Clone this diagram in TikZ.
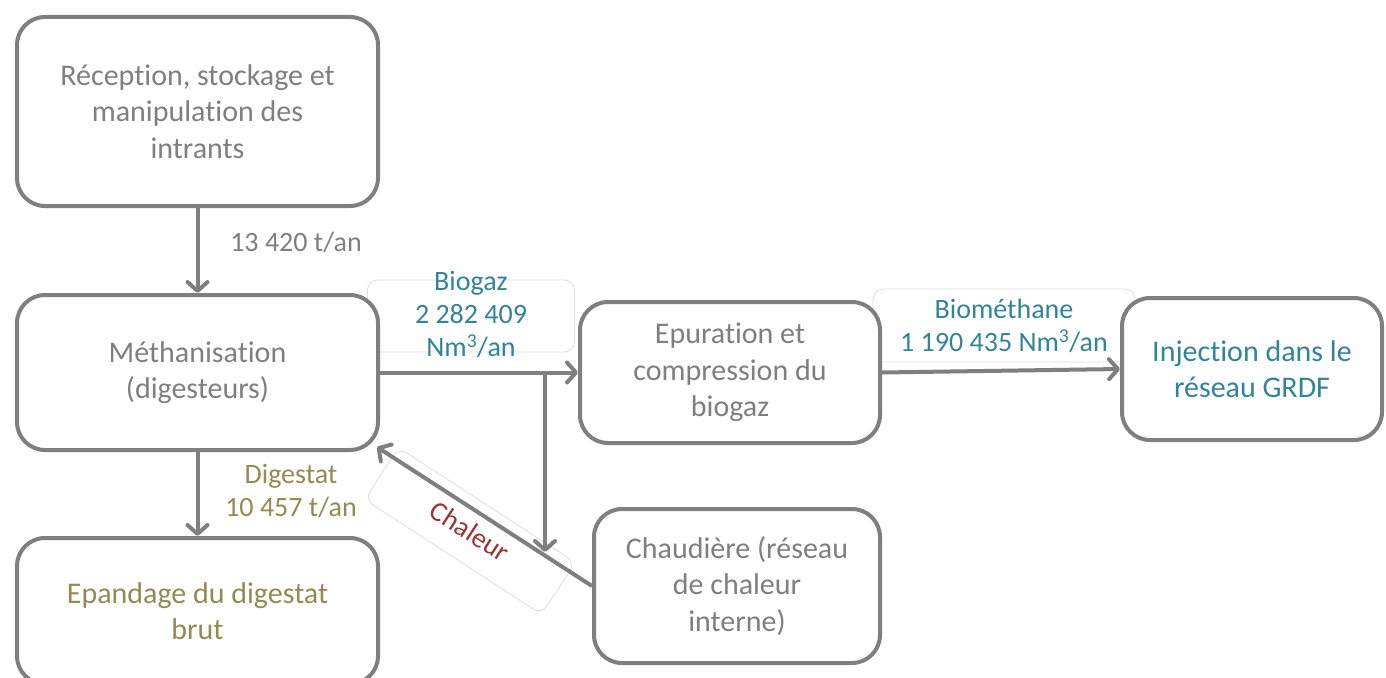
\documentclass[tikz,border=0pt]{standalone}
\usepackage{fontspec}
\setmainfont{Carlito}[Ligatures=NoCommon]
\usetikzlibrary{arrows.meta,calc}
\definecolor{lg}{HTML}{7F7F7F}
\definecolor{teal}{HTML}{31849B}
\definecolor{olive}{HTML}{948A54}
\definecolor{dred}{HTML}{953735}
\definecolor{faint}{HTML}{DDDDDD}
\tikzset{
  box/.style={draw=lg, line width=4pt, rounded corners=28pt, fill=white, text=lg,
    align=center, inner sep=0pt, font=\fontsize{30}{36.6}\selectfont},
  lbl/.style={align=center, inner sep=0pt, font=\fontsize{28}{33}\selectfont},
  lblbox/.style={draw=faint, line width=0.8pt, rounded corners=10pt, fill=white, inner sep=0pt},
  arr/.style={draw=lg, line width=4pt, -{Straight Barb[length=9pt,width=20pt,round]}},
  ln/.style={draw=lg, line width=4pt}
}
\begin{document}
\begin{tikzpicture}[x=1pt,y=-1pt]
\clip (0,0) rectangle (1386,677);
\fill[white] (0,0) rectangle (1386,677);
% edge label boxes
\node[lblbox, minimum width=207pt, minimum height=72pt] (bgbox) at (471,316) {};
\node[lblbox, minimum width=262pt, minimum height=73pt] (bmbox) at (1004,325.5) {};
% boxes
\node[box, minimum width=361pt, minimum height=189pt] (A) at (197.5,111.5) {Réception, stockage et\\manipulation des\\intrants};
\node[box, minimum width=361pt, minimum height=155pt] (B) at (197.5,372.5) {Méthanisation\\(digesteurs)};
\node[box, minimum width=361pt, minimum height=146pt, text=olive] (C) at (197.5,611) {Epandage du digestat\\brut};
\node[box, minimum width=300pt, minimum height=141pt] (D) at (730,372.5) {Epuration et\\compression du\\biogaz};
\node[box, minimum width=260pt, minimum height=142pt, text=teal] (E) at (1252,369) {Injection dans le\\réseau GRDF};
\node[box, minimum width=286pt, minimum height=154pt] (F) at (737,586) {Chaudière (réseau\\de chaleur\\interne)};
% labels
\node[lbl, text=lg] (l1) at (296,242) {13 420 t/an};
\node[lbl, text=teal] (l2) at (471,314.5) {Biogaz\\2 282 409\\Nm\textsuperscript{3}/an};
\node[lbl, text=teal] (l3) at (1004,326) {Biométhane\\1 190 435 Nm\textsuperscript{3}/an};
\node[lbl, text=olive] (l4) at (291,490.5) {Digestat\\10 457 t/an};
\node[lblbox, lbl, text=dred, minimum width=211pt, minimum height=62pt, rotate=-33] (chbox) at (470,531) {Chaleur};
% connectors
\draw[arr] (A.south) -- (B.north);
\draw[arr] (B.south) -- (C.north);
\draw[arr] (B.east) -- (D.west);
\coordinate (br) at (545,372.5);
\coordinate (brend) at (545,552);
\draw[arr] (br) -- (brend);
\draw[arr] (D.east) -- (E.west);
\draw[arr] (F.west) -- ($(B.south east)+(-3,-5)$);
\end{tikzpicture}
\end{document}
